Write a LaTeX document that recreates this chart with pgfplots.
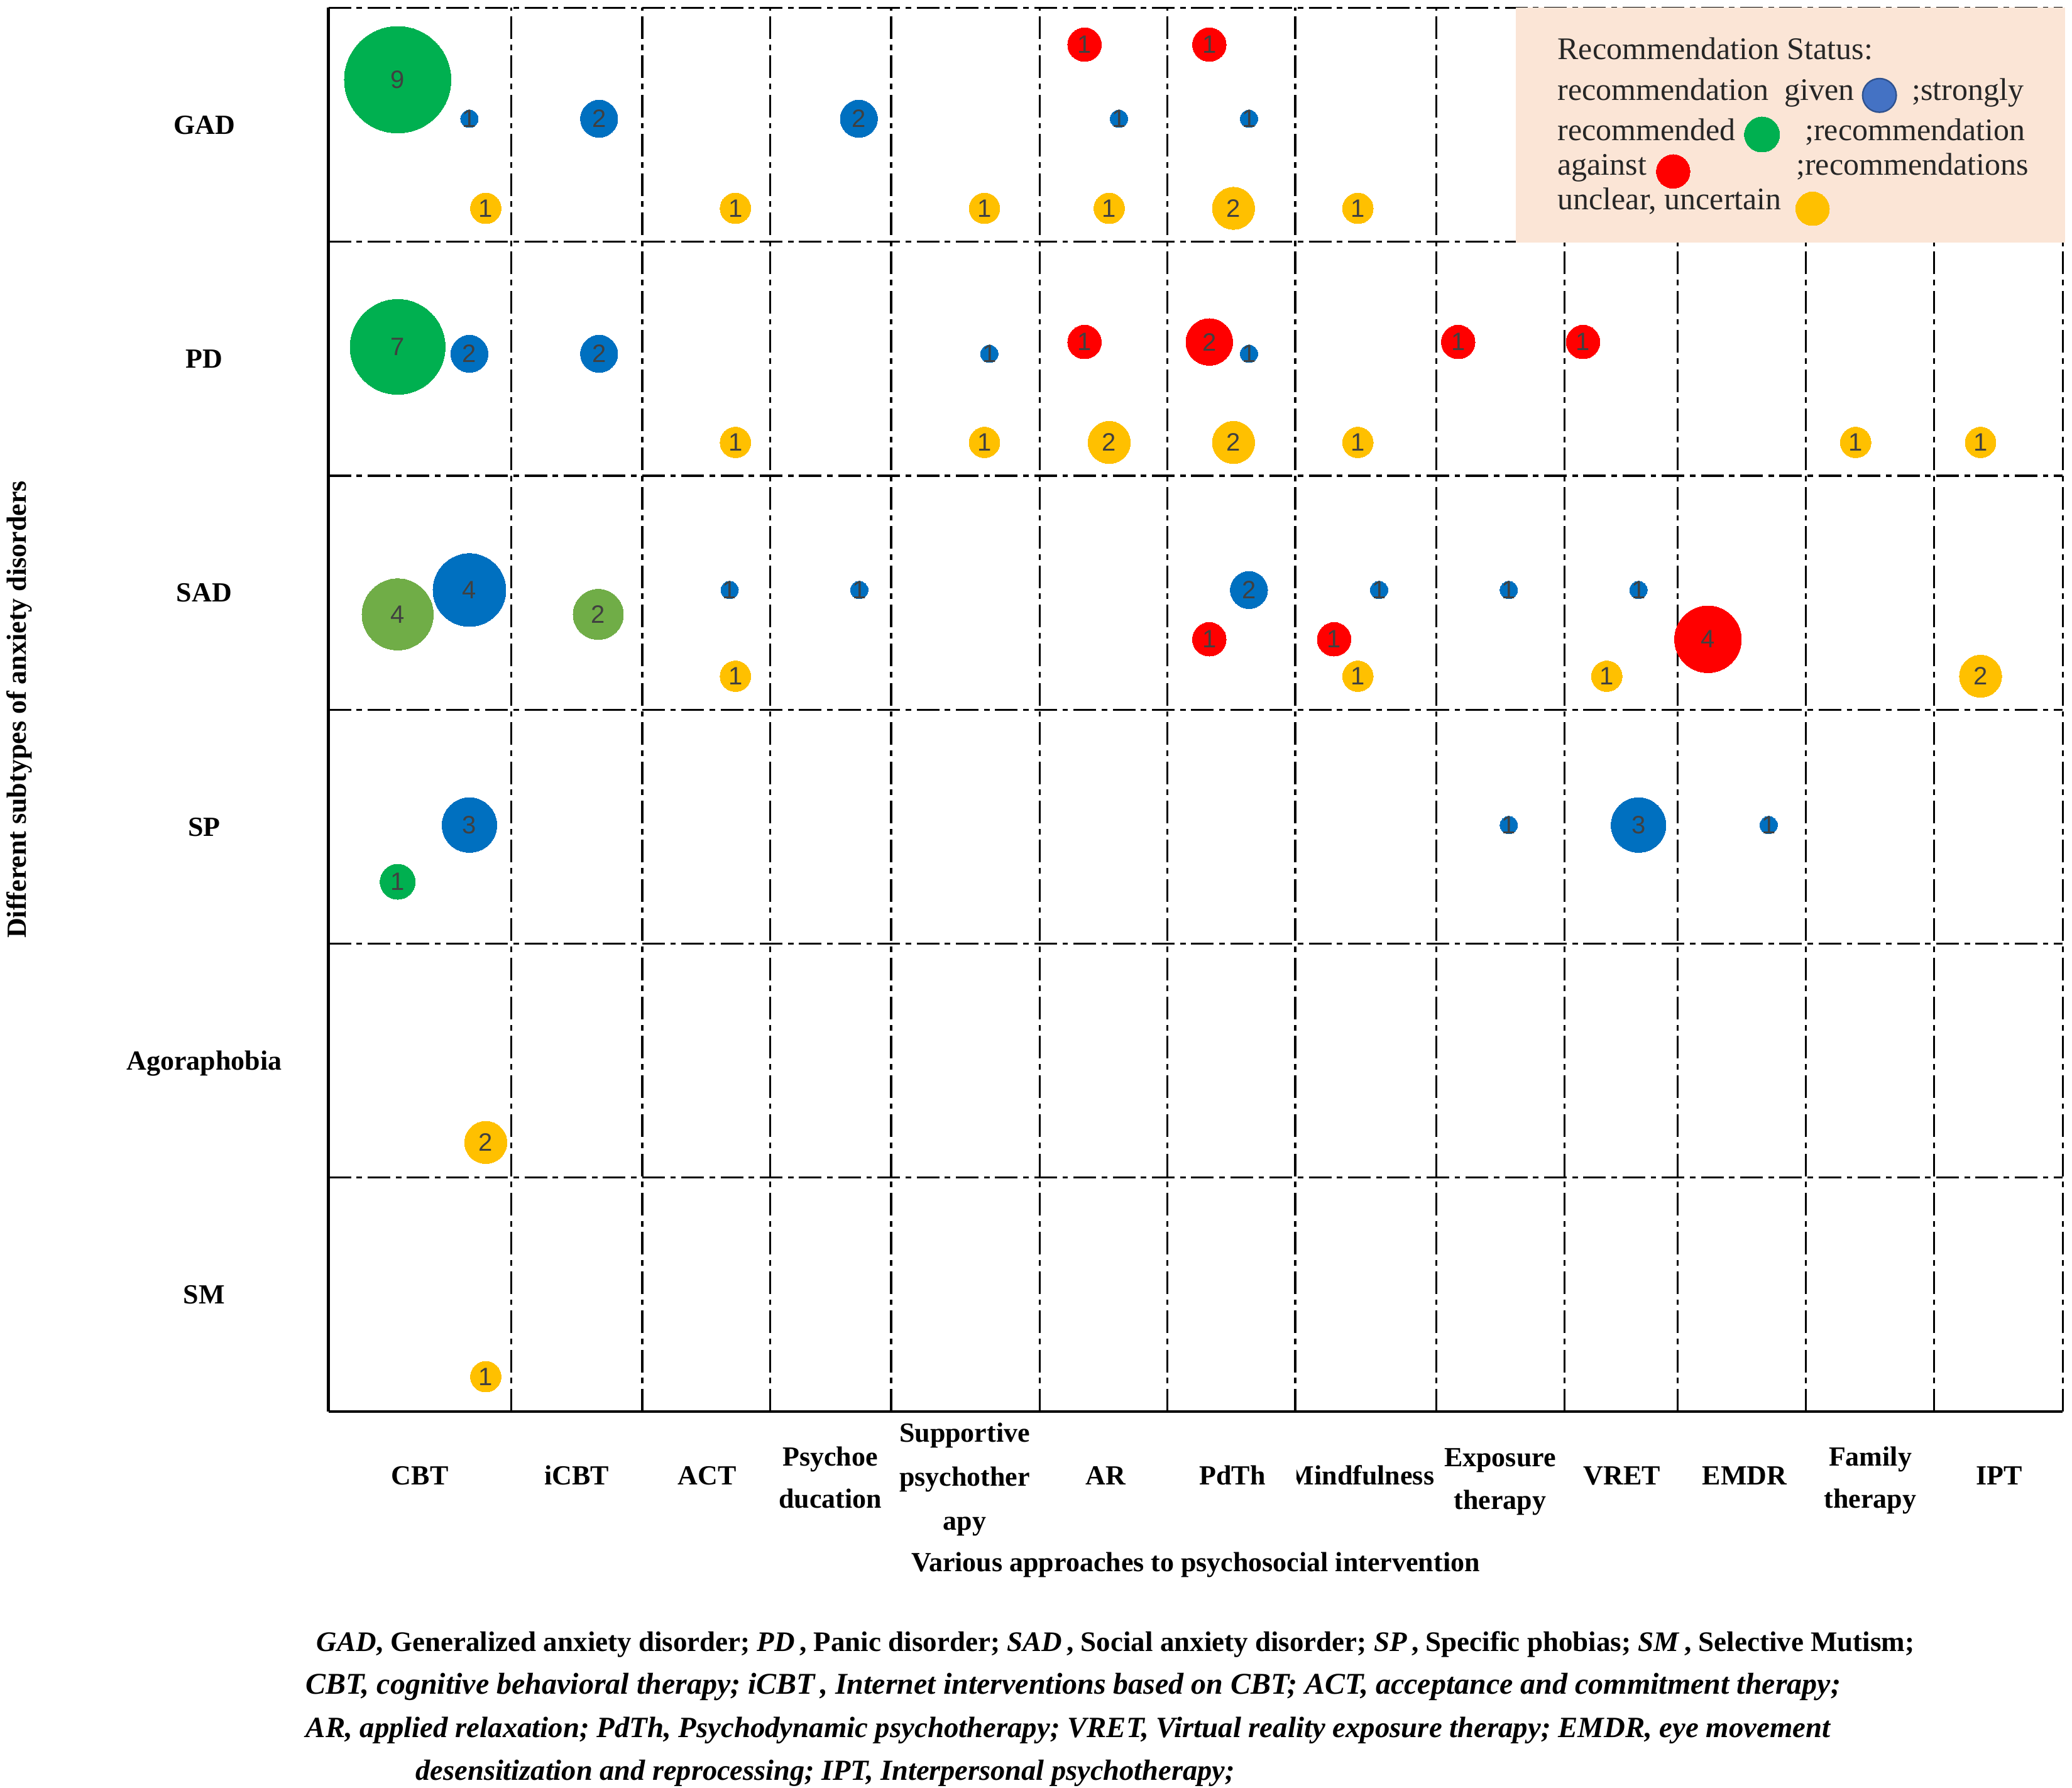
\documentclass[border=0pt]{standalone}
\usepackage{fontspec}
\setmainfont{Liberation Serif}
\newfontfamily\numfont{Liberation Sans}
\usepackage{pgfplots}
\pgfplotsset{compat=1.18}

\definecolor{blueC}{HTML}{0070C0}
\definecolor{greenC}{HTML}{00B050}
\definecolor{lgreenC}{HTML}{70AD47}
\definecolor{redC}{HTML}{FF0000}
\definecolor{yellowC}{HTML}{FFC000}
\definecolor{legblue}{HTML}{4472C4}
\definecolor{legblueD}{HTML}{2F528F}
\definecolor{peach}{HTML}{FBE5D6}
\definecolor{numgray}{HTML}{404040}

\newcommand\lab{\bfseries\fontsize{11}{13}\selectfont}
\newcommand\legf{\fontsize{12.5}{14}\selectfont}

% bubbles: x, y in picture units, n = count, r = radius (pt)
\pgfplotsset{bub/.style={scatter, only marks, mark=*,
    mark options={draw=#1, fill=#1, line width=0pt},
    scatter/use mapped color={draw=#1, fill=#1},
    visualization depends on={\thisrow{r} \as \rad},
    visualization depends on={value \thisrow{n} \as \cnt},
    scatter/@pre marker code/.append style={/tikz/mark size=\rad, /tikz/line width=0pt},
    scatter/@post marker code/.code={%
        \node[anchor=center, inner sep=0pt, text=numgray,
              font=\numfont\fontsize{10}{12}\selectfont] {\cnt};
        \endscope}},
    legmark/.style={only marks, mark=*, mark size=6.7,
    mark options={draw=#1, fill=#1, line width=0pt}}}

\begin{document}
\begin{tikzpicture}
\begin{axis}[
    scale only axis, width=689.925pt, height=558.375pt,
    xmin=522.6, xmax=3282.3, ymin=0, ymax=2233.5,
    clip=false,
    axis x line*=bottom, axis y line*=left,
    axis line style={line width=1.2pt},
    xtick={813.7,1022,1225.6,1417.8,1654.2,1857.6,2061,2285.4,2489.6,2669.4,2873.7,3077.3,3282.3},
    ytick={372.25,744.5,1116.75,1489,1861.25,2233.5},
    xticklabels={}, yticklabels={},
    major tick length=0pt,
    grid=major,
    major grid style={black, line width=0.85pt, dash pattern=on 9pt off 2.2pt on 2.2pt off 2.2pt},
]

% recommended (green)
\addplot[bub=greenC] table[x=x, y=y] {
x y n r
632.8 2119.1 9 21.2
632.8 1694 7 18.9
632.8 843 1 7.0
};
\addplot[bub=lgreenC] table[x=x, y=y] {
x y n r
632.8 1268.4 4 14.2
952 1268.4 2 10.0
};
% recommendation given (blue)
\addplot[bub=blueC] table[x=x, y=y] {
x y n r
747 2057 1 3.5
953.3 2057 2 7.4
1366.6 2057 2 7.4
1780.5 2057 1 3.5
1987.4 2057 1 3.5
747 1683 2 7.4
953.3 1683 2 7.4
1574.2 1683 1 3.5
1987.4 1683 1 3.5
747 1307.2 4 14.5
1161 1307.2 1 3.5
1367.3 1307.2 1 3.5
1987.4 1307.2 2 7.4
2194.4 1307.2 1 3.5
2400.8 1307.2 1 3.5
2607.2 1307.2 1 3.5
747 933.2 3 10.9
2400.8 933.2 1 3.5
2607.2 933.2 3 10.9
2814.3 933.2 1 3.5
};
% recommendation against (red)
\addplot[bub=redC] table[x=x, y=y] {
x y n r
1725.7 2175 1 6.7
1924.3 2175 1 6.7
1725.7 1701.8 1 6.7
1924.3 1701.8 2 9.3
2320.3 1701.8 1 6.7
2519 1701.8 1 6.7
1924.3 1228.8 1 6.7
2122.8 1228.8 1 6.7
2717.7 1228.8 4 13.3
};
% unclear, uncertain (yellow)
\addplot[bub=yellowC] table[x=x, y=y] {
x y n r
773 1914.5 1 6.1
1170.2 1914.5 1 6.1
1566.5 1914.5 1 6.1
1765 1914.5 1 6.1
1962.8 1914.5 2 8.4
2160.7 1914.5 1 6.1
1170.2 1542 1 6.1
1566.5 1542 1 6.1
1765 1542 2 8.4
1962.8 1542 2 8.4
2160.7 1542 1 6.1
2952.8 1542 1 6.1
3151.5 1542 1 6.1
1170.2 1170 1 6.1
2160.7 1170 1 6.1
2556.8 1170 1 6.1
3151.5 1170 2 8.4
773 428.2 2 8.4
773 55.5 1 6.1
};

% legend box
\fill[peach] (2412,1859.5) rectangle (3286,2233.5);
\addplot[only marks, mark=*, mark size=6.7, mark options={draw=legblueD, line width=0.6pt, fill=legblue}] coordinates {(2990.6,2094.2)};
\addplot[legmark=greenC, mark size=7] coordinates {(2803.8,2032)};
\addplot[legmark=redC] coordinates {(2662.4,1973.2)};
\addplot[legmark=yellowC] coordinates {(2884.2,1913.8)};
\begin{scope}[every node/.style={anchor=base west, inner sep=0pt, font=\legf, text=black!85}]
\node at (2477.7,2151) {Recommendation Status:};
\node at (2477.7,2086.5) {recommendation\ \ given};
\node at (3041.6,2086.5) {;strongly};
\node at (2477.7,2022) {recommended};
\node at (2871.6,2022) {;recommendation};
\node at (2477.7,1967.7) {against};
\node at (2857.6,1967.7) {;recommendations};
\node at (2477.7,1912.7) {unclear, uncertain};
\end{scope}

% row labels
\begin{scope}[every node/.style={anchor=base, inner sep=0pt, font=\lab}]
\node at (325,2032.8) {GAD};
\node at (325,1660.5) {PD};
\node at (325,1288.3) {SAD};
\node at (325,916) {SP};
\node at (325,543.8) {Agoraphobia};
\node at (325,171.5) {SM};
\node[rotate=90] at (42,1117) {Different subtypes of anxiety disorders};
% column labels
\node at (668.2,-116.6) {CBT};
\node at (918,-116.6) {iCBT};
\node at (1125,-116.6) {ACT};
\node at (1321,-86.6) {Psychoe};
\node at (1321,-153.6) {ducation};
\node at (1535,-48.6) {Supportive};
\node at (1535,-118.6) {psychother};
\node at (1535,-188) {apy};
\node at (1759,-116.6) {AR};
\node at (1961,-116.6) {PdTh};
\node at (2387,-87.6) {Exposure};
\node at (2387,-155.5) {therapy};
\node at (2581,-116.6) {VRET};
\node at (2776,-116.6) {EMDR};
\node at (2976,-86.6) {Family};
\node at (2976,-153.6) {therapy};
\node at (3181,-116.6) {IPT};
\node at (1902.5,-254) {Various approaches to psychosocial intervention};
\end{scope}
\coordinate (mfA) at (2063,-50);
\coordinate (mfB) at (2287,-170);
\coordinate (mfC) at (2166,-116.6);

% footnote
\begin{scope}[every node/.style={anchor=base west, inner sep=0pt}]
\node[font=\bfseries\fontsize{11.25}{13}\selectfont] at (503,-381.2) {\textit{GAD}, Generalized anxiety disorder; \textit{PD}\,, Panic disorder; \textit{SAD}\,, Social anxiety disorder; \textit{SP}\,, Specific phobias; \textit{SM}\,, Selective Mutism;};
\node[font=\bfseries\itshape\fontsize{12}{13}\selectfont] at (486,-449) {CBT, cognitive behavioral therapy; iCBT\,, Internet interventions based on CBT; ACT, acceptance and commitment therapy;};
\node[font=\bfseries\itshape\fontsize{11.7}{13}\selectfont] at (486,-518.7) {AR, applied relaxation; PdTh, Psychodynamic psychotherapy; VRET, Virtual reality exposure therapy; EMDR, eye movement};
\node[font=\bfseries\itshape\fontsize{11.6}{13}\selectfont] at (661,-586.4) {desensitization and reprocessing; IPT, Interpersonal psychotherapy;};
\end{scope}

\coordinate (bbA) at (0,-598);
\coordinate (bbB) at (3297,2246);
\end{axis}
\begin{scope}
\clip (mfA) rectangle (mfB);
\node[anchor=base, inner sep=0pt, font=\lab] at (mfC) {Mindfulness};
\end{scope}
\pgfresetboundingbox
\path[use as bounding box] (bbA) rectangle (bbB);
\end{tikzpicture}
\end{document}
